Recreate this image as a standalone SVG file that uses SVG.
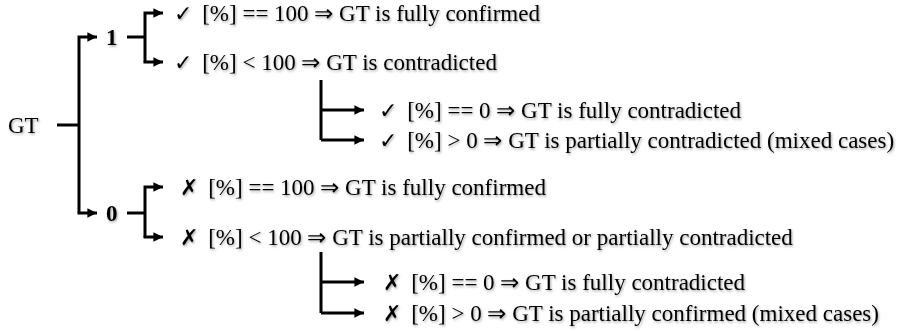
<svg xmlns="http://www.w3.org/2000/svg" width="903" height="331" viewBox="0 0 903 331">
<defs>
<style>
text{font-family:"Liberation Serif","Times New Roman",serif;font-size:23px;fill:#000;}
.b{font-weight:bold;}
.sym{font-family:"DejaVu Sans",sans-serif;font-size:22px;}
.c{fill:none;stroke:#000;stroke-width:3;}
</style>
<marker id="ah" viewBox="0 0 10 10" refX="10" refY="5" markerWidth="3.6" markerHeight="3.2" markerUnits="strokeWidth" orient="auto">
<path d="M0,0 L10,5 L0,10 Z" fill="#000"/>
</marker>
<filter id="sh" x="-5%" y="-30%" width="110%" height="160%">
<feDropShadow dx="1" dy="1.5" stdDeviation="0.8" flood-color="#000" flood-opacity="0.35"/>
</filter>
</defs>
<g id="connectors">
<path class="c" d="M57,125 H79"/>
<path class="c" d="M79,213 V37 H97" marker-end="url(#ah)"/>
<path class="c" d="M79,212 V213 H97" marker-end="url(#ah)"/>
<path class="c" d="M127,37 H145"/>
<path class="c" d="M145,62 V13 H163" marker-end="url(#ah)"/>
<path class="c" d="M145,61 V62 H163" marker-end="url(#ah)"/>
<path class="c" d="M127,213 H145"/>
<path class="c" d="M145,237 V187 H163" marker-end="url(#ah)"/>
<path class="c" d="M145,236 V237 H163" marker-end="url(#ah)"/>
<path class="c" d="M321,140 V80"/>
<path class="c" d="M321,110 H364" marker-end="url(#ah)"/>
<path class="c" d="M321,140 H364" marker-end="url(#ah)"/>
<path class="c" d="M321,313 V252"/>
<path class="c" d="M321,282 H364" marker-end="url(#ah)"/>
<path class="c" d="M321,313 H364" marker-end="url(#ah)"/>
</g>
<g filter="url(#sh)">
<g id="gt"><text x="8" y="133">GT</text></g>
<g id="n1"><text class="b" x="106" y="45">1</text></g>
<g id="n0"><text class="b" x="106" y="221">0</text></g>
<g id="t1"><text x="174" y="21"><tspan class="sym">✓</tspan><tspan dx="4"> [%] == 100 ⇒ GT is fully confirmed</tspan></text></g>
<g id="t2"><text x="174" y="70"><tspan class="sym">✓</tspan><tspan dx="4"> [%] &lt; 100 ⇒ GT is contradicted</tspan></text></g>
<g id="t3"><text x="379" y="118"><tspan class="sym">✓</tspan><tspan dx="4"> [%] == 0 ⇒ GT is fully contradicted</tspan></text></g>
<g id="t4"><text x="379" y="148"><tspan class="sym">✓</tspan><tspan dx="4"> [%] &gt; 0 ⇒ GT is partially contradicted (mixed cases)</tspan></text></g>
<g id="t5"><text x="180" y="195"><tspan class="sym">✗</tspan><tspan dx="4"> [%] == 100 ⇒ GT is fully confirmed</tspan></text></g>
<g id="t6"><text x="180" y="245"><tspan class="sym">✗</tspan><tspan dx="4"> [%] &lt; 100 ⇒ GT is partially confirmed or partially contradicted</tspan></text></g>
<g id="t7"><text x="383" y="290"><tspan class="sym">✗</tspan><tspan dx="4"> [%] == 0 ⇒ GT is fully contradicted</tspan></text></g>
<g id="t8"><text x="383" y="321"><tspan class="sym">✗</tspan><tspan dx="4"> [%] &gt; 0 ⇒ GT is partially confirmed (mixed cases)</tspan></text></g>
</g>
</svg>
